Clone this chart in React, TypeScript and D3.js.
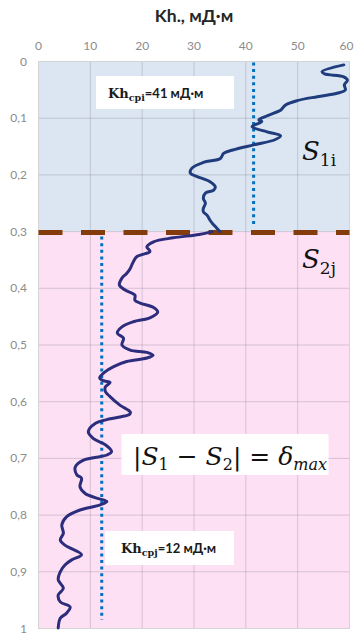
import React from "react";
import * as d3 from "d3";

// Depth profile of Kh (mD·m): upper interval S1 (0–0.3) and lower interval S2 (0.3–1)
const upperDepth = [0.006, 0.018, 0.022, 0.027, 0.033, 0.041, 0.05, 0.056, 0.062, 0.069, 0.077, 0.086, 0.091, 0.097, 0.103, 0.106, 0.115, 0.124, 0.131, 0.138, 0.147, 0.156, 0.162, 0.171, 0.178, 0.188, 0.197, 0.203, 0.212, 0.221, 0.227, 0.232, 0.241, 0.25, 0.259, 0.265, 0.271, 0.28, 0.285, 0.294, 0.3];
const upperKh = [58.9, 54.7, 55.2, 58.9, 59.6, 59.0, 59.2, 57.6, 53.8, 49.9, 47.6, 46.7, 45.4, 43.8, 42.5, 43.1, 41.2, 44.1, 46.7, 45.6, 41.5, 37.5, 35.7, 35.1, 31.8, 29.6, 29.3, 30.6, 33.1, 34.1, 33.8, 32.2, 31.8, 32.2, 31.8, 31.8, 32.5, 33.1, 33.5, 34.4, 35.0];

const lowerDepth = [0.3, 0.305, 0.311, 0.318, 0.327, 0.335, 0.344, 0.353, 0.365, 0.374, 0.382, 0.394, 0.403, 0.412, 0.421, 0.426, 0.434, 0.442, 0.452, 0.459, 0.468, 0.479, 0.488, 0.5, 0.509, 0.513, 0.518, 0.523, 0.529, 0.538, 0.547, 0.558, 0.563, 0.566, 0.574, 0.582, 0.591, 0.606, 0.618, 0.622, 0.627, 0.632, 0.638, 0.653, 0.665, 0.676, 0.688, 0.694, 0.703, 0.715, 0.729, 0.735, 0.75, 0.762, 0.77, 0.776, 0.782, 0.791, 0.803, 0.817, 0.832, 0.844, 0.853, 0.87, 0.879, 0.888, 0.9, 0.914, 0.929, 0.941, 0.953, 0.962, 0.973, 0.982, 0.999];
const lowerKh = [33.5, 31.0, 26.0, 22.2, 20.9, 21.5, 19.0, 18.3, 17.7, 17.0, 16.1, 15.6, 16.7, 18.6, 18.6, 19.6, 22.2, 23.0, 21.5, 18.3, 16.1, 15.2, 16.4, 16.1, 17.7, 20.9, 22.1, 20.9, 17.0, 14.5, 12.9, 11.8, 12.5, 13.8, 12.9, 12.9, 13.8, 15.7, 17.7, 17.6, 15.7, 13.0, 11.0, 9.6, 10.6, 12.9, 14.1, 13.2, 8.7, 7.1, 7.4, 8.3, 8.0, 9.0, 11.2, 13.2, 11.9, 8.0, 5.4, 4.5, 4.8, 4.2, 5.1, 8.3, 6.4, 5.1, 4.2, 3.8, 4.8, 3.8, 4.2, 6.1, 5.4, 4.2, 3.8];

// Interval means and boundary
const upperMean = 41.5;
const lowerMean = 12.2;
const boundaryDepth = 0.3;
const lowerMeanEnd = 0.985;

const xTicks = [0, 10, 20, 30, 40, 50, 60];
const yTicks = [0, 0.1, 0.2, 0.3, 0.4, 0.5, 0.6, 0.7, 0.8, 0.9, 1];

const W = 354;
const H = 634;
const left = 38.5;
const right = 349.5;
const top = 61.5;
const bottom = 628.5;

const sans = "Lato, 'Open Sans', sans-serif";
const serif = "'DejaVu Serif', 'Liberation Serif', serif";

export default function App() {
  const x = d3.scaleLinear().domain([0, 60]).range([left, right]);
  const y = d3.scaleLinear().domain([0, 1]).range([top, bottom]);

  const line = d3
    .line<[number, number]>()
    .x((d) => x(d[0]))
    .y((d) => y(d[1]))
    .curve(d3.curveCatmullRom.alpha(0.5));

  const upperPath = line(upperDepth.map((d, i) => [upperKh[i], d]))!;
  const lowerPath = line(lowerDepth.map((d, i) => [lowerKh[i], d]))!;

  const yFmt = (v: number) => (v === 0 || v === 1 ? String(v) : v.toFixed(1).replace(".", ","));

  return (
    <div style={{ position: "fixed", left: 0, top: 0 }}>
      <svg width={W} height={H} style={{ display: "block", background: "#fff" }}>
        {/* interval backgrounds */}
        <rect x={left} y={y(0)} width={right - left} height={y(boundaryDepth) - y(0)} fill="#dce6f2" />
        <rect x={left} y={y(boundaryDepth)} width={right - left} height={y(1) - y(boundaryDepth)} fill="#fee0f4" />

        {/* gridlines */}
        {xTicks.slice(1, -1).map((t) => (
          <line key={"gx" + t} x1={x(t)} x2={x(t)} y1={top} y2={bottom} stroke="rgba(110,110,125,0.28)" strokeWidth={1} />
        ))}
        {yTicks.slice(1, -1).map((t) => (
          <line key={"gy" + t} x1={left} x2={right} y1={y(t)} y2={y(t)} stroke="rgba(110,110,125,0.28)" strokeWidth={1} />
        ))}
        <rect x={left} y={top} width={right - left} height={bottom - top} fill="none" stroke="#d4d4d4" strokeWidth={1} />

        {/* title and axes */}
        <text x={194} y={22} textAnchor="middle" fontFamily={sans} fontWeight="bold" fontSize={17.5} fill="#262626">
          Kh., мД·м
        </text>
        {xTicks.map((t) => (
          <text
            key={"tx" + t}
            x={t === 60 ? x(t) - 3 : x(t)}
            y={50}
            textAnchor="middle"
            fontFamily={sans}
            fontSize={12}
            fill="#8c8c8c"
          >
            {t}
          </text>
        ))}
        {yTicks.map((t) => (
          <text key={"ty" + t} x={27} y={y(t) + 4} textAnchor="end" fontFamily={sans} fontSize={12} fill="#8c8c8c">
            {yFmt(t)}
          </text>
        ))}

        {/* interval mean lines */}
        <line x1={x(upperMean)} x2={x(upperMean)} y1={y(0) + 1} y2={y(boundaryDepth) - 4} stroke="#0070c0" strokeWidth={3} strokeDasharray="3 3.6" />
        <line x1={x(lowerMean)} x2={x(lowerMean)} y1={y(boundaryDepth) + 5} y2={y(lowerMeanEnd)} stroke="#0070c0" strokeWidth={3} strokeDasharray="3 3.6" />

        {/* boundary between intervals */}
        <line x1={left} x2={right} y1={y(boundaryDepth) + 1} y2={y(boundaryDepth) + 1} stroke="#843c0c" strokeWidth={5} strokeDasharray="24 18.5" />

        {/* Kh profiles */}
        <path d={upperPath} fill="none" stroke="#1f3c7c" strokeWidth={3} strokeLinejoin="round" strokeLinecap="round" />
        <path d={lowerPath} fill="none" stroke="#2c2d7c" strokeWidth={3} strokeLinejoin="round" strokeLinecap="round" />

        {/* mean annotations */}
        <rect x={96} y={76} width={138} height={33} fill="#ffffff" />
        <text x={108} y={98} fontSize={13} fontWeight="bold" fill="#1a1a1a">
          <tspan fontFamily={serif}>Kh</tspan>
          <tspan fontFamily={serif} fontSize={9.5} dy={3}>срi</tspan>
          <tspan fontFamily={sans} dy={-3}>=41 мД·м</tspan>
        </text>
        <rect x={105} y={531} width={129} height={34} fill="#ffffff" />
        <text x={121} y={553} fontSize={13} fontWeight="bold" fill="#1a1a1a">
          <tspan fontFamily={serif}>Kh</tspan>
          <tspan fontFamily={serif} fontSize={9.5} dy={3}>срj</tspan>
          <tspan fontFamily={sans} dy={-3}>=12 мД·м</tspan>
        </text>

        {/* interval labels */}
        <text x={302} y={160} fontFamily={serif} fontSize={26} fill="#111">
          <tspan fontStyle="italic">S</tspan>
          <tspan fontSize={17} dy={6}>1i</tspan>
        </text>
        <text x={302} y={268} fontFamily={serif} fontSize={26} fill="#111">
          <tspan fontStyle="italic">S</tspan>
          <tspan fontSize={17} dy={6}>2j</tspan>
        </text>

        {/* criterion */}
        <rect x={121.5} y={434} width={207} height={41} fill="#ffffff" />
        <text x={133} y={465} fontFamily={serif} fontSize={25} fill="#111">
          <tspan>|</tspan>
          <tspan fontStyle="italic">S</tspan>
          <tspan fontSize={16} dy={5}>1</tspan>
          <tspan dy={-5}> − </tspan>
          <tspan fontStyle="italic">S</tspan>
          <tspan fontSize={16} dy={5}>2</tspan>
          <tspan dy={-5}>| = </tspan>
          <tspan fontStyle="italic">δ</tspan>
          <tspan fontStyle="italic" fontSize={16} dy={5}>max</tspan>
        </text>
      </svg>
    </div>
  );
}
